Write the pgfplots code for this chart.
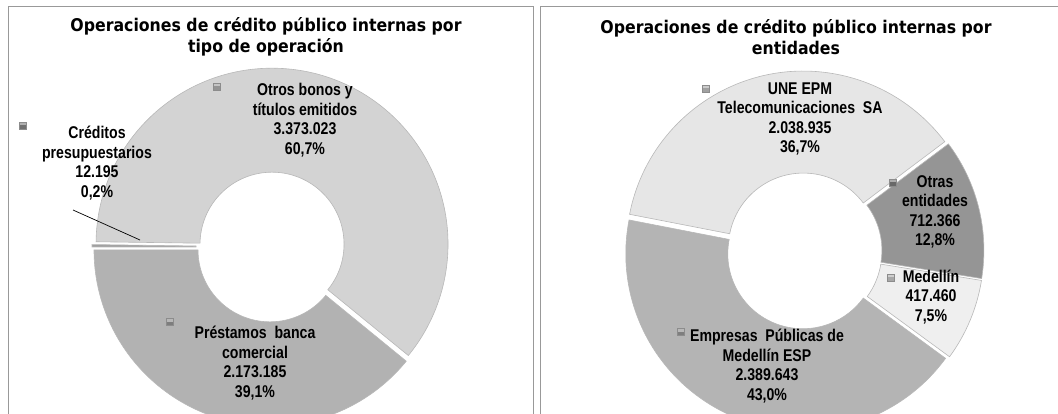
\documentclass[border=0pt]{standalone}
\usepackage{pgfplots}
\usepackage{pgfplotstable}
\pgfplotsset{compat=1.18}
\usepackage{fontspec}
\setmainfont{Liberation Sans}
\newfontfamily\titfont[FakeStretch=0.9]{DejaVu Sans}
\newfontfamily\lblfont[FakeStretch=0.83]{Liberation Sans}
\newcommand\lbl{\lblfont\bfseries\fontsize{17}{19.5}\selectfont}
\newcommand\tit{\titfont\bfseries\fontsize{17.5}{21}\selectfont}

\definecolor{otros}{HTML}{D3D3D3}
\definecolor{prest}{HTML}{B2B2B2}
\definecolor{cred}{HTML}{A0A0A0}
\definecolor{une}{HTML}{E6E6E6}
\definecolor{otras}{HTML}{959595}
\definecolor{medel}{HTML}{EFEFEF}
\definecolor{epm}{HTML}{B4B4B4}

% valores en miles (millones de pesos)
\pgfplotstableread{
valor
12.195
3373.023
2173.185
}\tipo
\pgfplotstableread{
valor
2038.935
712.366
417.460
2389.643
}\entid

% annular slice: cx, cy, start angle, end angle, R, r, colour
\newcommand\dslice[7]{%
  \pgfmathsetmacro\mymid{(#3+#4)/2}%
  \edef\temp{\noexpand\fill[#7, draw=black!28, line width=0.6pt]
    (axis cs:#1,#2) ++(\mymid:3pt) ++(#3:#5pt)
    arc[start angle=#3, end angle=#4, radius=#5pt]
    -- ++(#4+180:#5pt-#6pt)
    arc[start angle=#4, end angle=#3, radius=#6pt] -- cycle;}%
  \temp}
\newcommand\key[3]{% x, y, colour
  \fill[#3!70!black, draw=black!45, line width=0.5pt] (axis cs:#1-3.5,#2-3.5) rectangle (axis cs:#1+3.5,#2+3.5);
  \fill[white, opacity=0.45] (axis cs:#1-3,#2-3) rectangle (axis cs:#1+3,#2-0.5);}

\begin{document}
\begin{tikzpicture}
% angulos tipo de operacion
\pgfplotstablegetelem{0}{valor}\of\tipo \let\vA\pgfplotsretval
\pgfplotstablegetelem{1}{valor}\of\tipo \let\vB\pgfplotsretval
\pgfplotstablegetelem{2}{valor}\of\tipo \let\vC\pgfplotsretval
\pgfmathsetmacro\totT{\vA+\vB+\vC}
\pgfmathsetmacro\tA{180}
\pgfmathsetmacro\tB{\tA-360*(\vA/\totT)}
\pgfmathsetmacro\tC{\tB-360*(\vB/\totT)}
\pgfmathsetmacro\tD{\tC-360*(\vC/\totT)}
% angulos entidades
\pgfplotstablegetelem{0}{valor}\of\entid \let\wA\pgfplotsretval
\pgfplotstablegetelem{1}{valor}\of\entid \let\wB\pgfplotsretval
\pgfplotstablegetelem{2}{valor}\of\entid \let\wC\pgfplotsretval
\pgfplotstablegetelem{3}{valor}\of\entid \let\wD\pgfplotsretval
\pgfmathsetmacro\totE{\wA+\wB+\wC+\wD}
\pgfmathsetmacro\eA{169}
\pgfmathsetmacro\eB{\eA-360*(\wA/\totE)}
\pgfmathsetmacro\eC{\eB-360*(\wB/\totE)}
\pgfmathsetmacro\eD{\eC-360*(\wC/\totE)}
\pgfmathsetmacro\eE{\eD-360*(\wD/\totE)}
\begin{axis}[x=1pt, y=1pt, xmin=0, xmax=1058, ymin=0, ymax=414,
  y dir=reverse, hide axis, clip=false]
\coordinate (SW) at (axis cs:0,414);
\coordinate (NE) at (axis cs:1058,0);
% marcos
\draw[black!40, line width=1pt] (axis cs:8,440) |- (axis cs:533,7) -- (axis cs:533,440);
\draw[black!40, line width=1pt] (axis cs:540,440) |- (axis cs:1080,7);

% --- tipo de operacion
\node[font=\tit, align=center] at (axis cs:266,37) {Operaciones de crédito público internas por\\tipo de operación};
\dslice{271}{247}{\tA}{\tB}{176}{72}{cred}
\dslice{271}{247}{\tB}{\tC}{176}{72}{otros}
\dslice{271}{247}{\tC}{\tD}{176}{72}{prest}
\draw[black, line width=0.7pt] (axis cs:73,210) -- (axis cs:140,240);
\key{217}{87}{otros}
\key{23}{126}{cred}
\key{170}{322}{prest}
\node[font=\lbl, align=center] at (axis cs:305,120) {Otros bonos y\\títulos emitidos\\3.373.023\\60,7\%};
\node[font=\lbl, align=center] at (axis cs:97,163) {Créditos\\presupuestarios\\12.195\\0,2\%};
\node[font=\lbl, align=center] at (axis cs:255,363) {Préstamos\ \ banca\\comercial\\2.173.185\\39,1\%};

% --- entidades
\node[font=\tit, align=center] at (axis cs:796,37) {Operaciones de crédito público internas por\\entidades};
\dslice{804}{251}{\eA}{\eB}{177}{75}{une}
\dslice{804}{251}{\eB}{\eC}{177}{75}{otras}
\dslice{804}{251}{\eC}{\eD}{177}{75}{medel}
\dslice{804}{251}{\eD}{\eE}{177}{75}{epm}
\key{706}{89}{une}
\key{893}{183}{otras}
\key{891}{278}{medel}
\key{681}{332}{epm}
\node[font=\lbl, align=center] at (axis cs:800,119) {UNE EPM\\Telecomunicaciones\ \ SA\\2.038.935\\36,7\%};
\node[font=\lbl, align=center] at (axis cs:935,212) {Otras\\entidades\\712.366\\12,8\%};
\node[font=\lbl, align=center] at (axis cs:931,297) {Medellín\\417.460\\7,5\%};
\node[font=\lbl, align=center] at (axis cs:767,366) {Empresas\ \ Públicas de\\Medellín ESP\\2.389.643\\43,0\%};
\end{axis}
\pgfresetboundingbox
\path[use as bounding box] (SW) rectangle (NE);
\end{tikzpicture}
\end{document}
